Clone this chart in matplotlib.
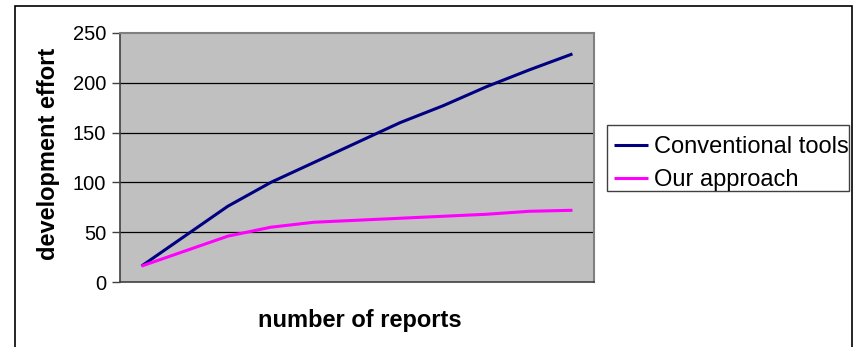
#!/usr/bin/env python3
"""Development effort vs number of reports (Excel-style line chart)."""
import matplotlib
matplotlib.use("Agg")
import matplotlib.pyplot as plt
from matplotlib.patches import Rectangle

plt.rcParams["font.family"] = ["Liberation Sans", "DejaVu Sans"]

# data
reports = list(range(1, 12))
conventional = [16, 46, 76, 100, 120, 140, 160, 177, 196, 213, 229]
our_approach = [16, 31, 46, 55, 60, 62, 64, 66, 68, 71, 72]
y_ticks = [0, 50, 100, 150, 200, 250]

C_CONV = "#000080"
C_OURS = "#FF00FF"

W, H = 855, 347
fig = plt.figure(figsize=(W / 100, H / 100), dpi=100)
ax = fig.add_axes([120 / W, 1 - 282 / H, 474 / W, 249 / H])
ax.set_facecolor("#C0C0C0")

ax.plot(reports, conventional, color=C_CONV, lw=2.2, label="Conventional tools",
        solid_capstyle="butt", zorder=3)
ax.plot(reports, our_approach, color=C_OURS, lw=2.2, label="Our approach",
        solid_capstyle="butt", zorder=3)

ax.set_xlim(0.5, 11.5)
ax.set_ylim(0, 250)
ax.set_yticks(y_ticks)
ax.set_xticks([])
for v in y_ticks[1:-1]:
    ax.axhline(v, color="black", lw=0.9, zorder=1)

for side in ("top", "right"):
    ax.spines[side].set_color("#808080")
    ax.spines[side].set_linewidth(1.5)
for side in ("left", "bottom"):
    ax.spines[side].set_color("#404040")
    ax.spines[side].set_linewidth(1.2)
ax.tick_params(axis="y", length=6, width=1, color="#404040", labelsize=14.5, pad=4)

# axis titles, placed where the original has them
fig.text(48 / W, 1 - 154 / H, "development effort", rotation=90,
         ha="center", va="center", fontsize=17, fontweight="bold")
fig.text(360 / W, 1 - 320 / H, "number of reports",
         ha="center", va="center", fontsize=17, fontweight="bold")

# legend without its own frame; the box is drawn separately so the text
# can run up to the edge like in the original
fig.legend(loc="upper left", bbox_to_anchor=(607 / W, 1 - 129 / H),
           fontsize=17, frameon=False,
           handlelength=1.45, handletextpad=0.22, borderpad=0.3,
           labelspacing=0.47, borderaxespad=0)
fig.patches.append(Rectangle((607 / W, 1 - 191 / H), (849 - 607) / W, 66 / H,
                             transform=fig.transFigure, fill=False,
                             edgecolor="#404040", lw=1.0))

# outer chart border (bottom edge runs off the picture)
fig.patches.append(Rectangle((15 / W, -0.05), (852 - 15) / W, 1.05 - 6 / H,
                             transform=fig.transFigure, fill=False,
                             edgecolor="black", lw=1.2))

fig.savefig("out.png", dpi=100)
plt.close(fig)
